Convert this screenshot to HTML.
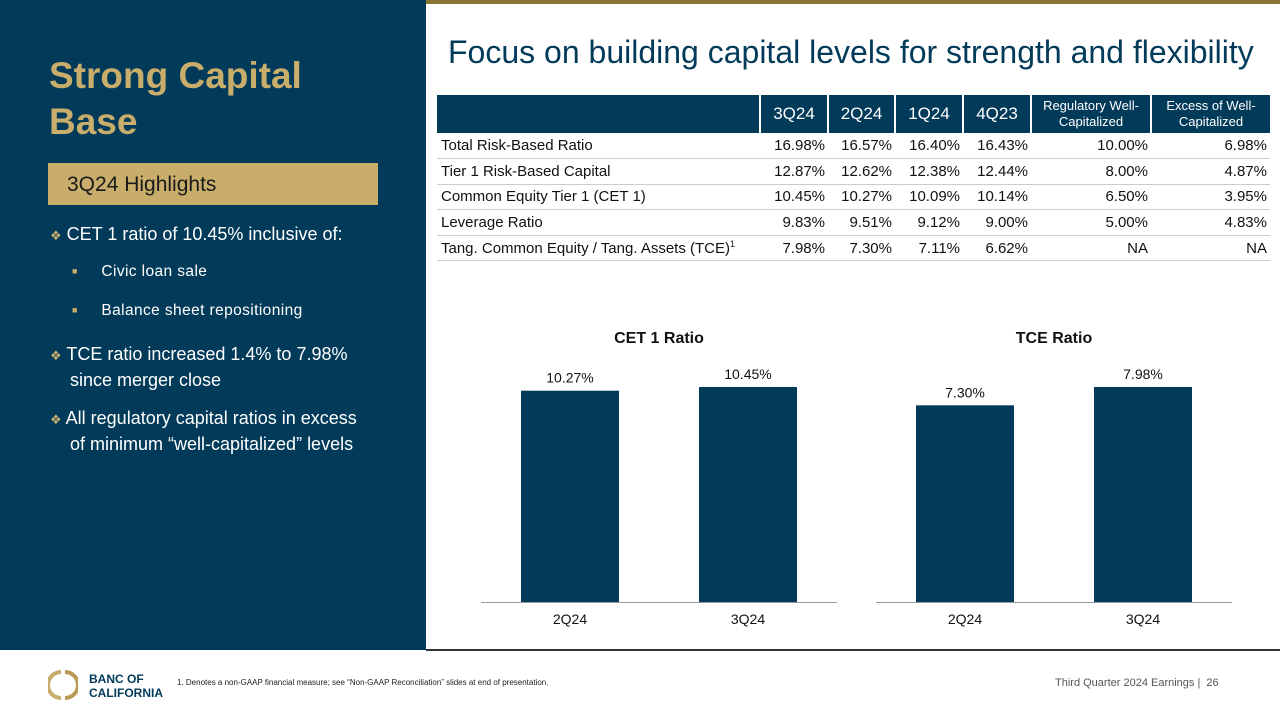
<!DOCTYPE html>
<html><head><meta charset="utf-8">
<style>
*{margin:0;padding:0;box-sizing:border-box}
body{width:1280px;height:720px;position:relative;background:#fff;font-family:"Liberation Sans",Arial,sans-serif;overflow:hidden}
.abs{position:absolute}
#left{left:0;top:0;width:426px;height:650px;background:#023a59}
#topbar{left:426px;top:0;width:854px;height:4px;background:#8a7535}
#botline{left:426px;top:649px;width:854px;height:2px;background:#333}
.title{left:49px;top:53px;color:#c8ad6b;font-weight:bold;font-size:37px;line-height:46px}
.hl{left:48px;top:163px;width:330px;height:42px;background:#c8ad6b;color:#1a1a1a;font-size:21px;line-height:44px;padding-left:19px}
.b{color:#fff;font-size:18px;line-height:24px}
.sub{color:#fff;font-size:15.5px;letter-spacing:0.4px}
.dia{color:#c8ad6b;font-size:13px}
.heading{left:448px;top:34px;color:#023a59;font-size:32px;white-space:nowrap}
table{position:absolute;left:437px;top:95px;border-collapse:collapse;font-size:15px;color:#111}
th{background:#023a59;color:#fff;font-weight:normal;height:38px;border-left:2px solid #fff;font-size:17px}
th.sm{font-size:13px;line-height:16px}
td{height:25.6px;border-bottom:1px solid #ccc;text-align:right;padding-right:3px;white-space:nowrap}
td:first-child{text-align:left;padding-left:4px}
.foot{font-size:8px;color:#222}
</style></head><body>
<div class="abs" id="left"></div>
<div class="abs" id="topbar"></div>
<div class="abs" id="botline"></div>
<div class="abs title">Strong Capital<br>Base</div>
<div class="abs hl">3Q24 Highlights</div>
<div class="abs b" style="left:50px;top:222px"><span class="dia">❖</span> CET 1 ratio of 10.45% inclusive of:</div>
<div class="abs sub" style="left:72px;top:263px"><span style="font-size:9px;color:#c8ad6b;vertical-align:2px">■</span>&nbsp;&nbsp;&nbsp;&nbsp;&nbsp;Civic loan sale</div>
<div class="abs sub" style="left:72px;top:302px"><span style="font-size:9px;color:#c8ad6b;vertical-align:2px">■</span>&nbsp;&nbsp;&nbsp;&nbsp;&nbsp;Balance sheet repositioning</div>
<div class="abs b" style="left:50px;top:342px"><span class="dia">❖</span> TCE ratio increased 1.4% to 7.98%<br>&nbsp;&nbsp;&nbsp;&nbsp;since merger close</div>
<div class="abs b" style="left:50px;top:406px"><span class="dia">❖</span> All regulatory capital ratios in excess<br>&nbsp;&nbsp;&nbsp;&nbsp;of minimum “well-capitalized” levels</div>

<div class="abs heading">Focus on building capital levels for strength and flexibility</div>

<table>
<tr><th style="width:323px;border-left:none"></th><th style="width:68px">3Q24</th><th style="width:67px">2Q24</th><th style="width:68px">1Q24</th><th style="width:68px">4Q23</th><th class="sm" style="width:120px">Regulatory Well-<br>Capitalized</th><th class="sm" style="width:119px">Excess of Well-<br>Capitalized</th></tr>
<tr><td>Total Risk-Based Ratio</td><td>16.98%</td><td>16.57%</td><td>16.40%</td><td>16.43%</td><td>10.00%</td><td>6.98%</td></tr>
<tr><td>Tier 1 Risk-Based Capital</td><td>12.87%</td><td>12.62%</td><td>12.38%</td><td>12.44%</td><td>8.00%</td><td>4.87%</td></tr>
<tr><td>Common Equity Tier 1 (CET 1)</td><td>10.45%</td><td>10.27%</td><td>10.09%</td><td>10.14%</td><td>6.50%</td><td>3.95%</td></tr>
<tr><td>Leverage Ratio</td><td>9.83%</td><td>9.51%</td><td>9.12%</td><td>9.00%</td><td>5.00%</td><td>4.83%</td></tr>
<tr><td>Tang. Common Equity / Tang. Assets (TCE)<sup style="font-size:9px">1</sup></td><td>7.98%</td><td>7.30%</td><td>7.11%</td><td>6.62%</td><td>NA</td><td>NA</td></tr>
</table>

<svg class="abs" style="left:0;top:0" width="1280" height="720" id="charts"></svg>

<div class="abs" style="left:48px;top:668px">
<svg width="30" height="34"><path d="M13 2 A15 15 0 0 0 13 32 L13 28 A11 11 0 0 1 13 6Z" fill="#c8ad6b"/><path d="M17 2 A15 15 0 0 1 17 32 L17 28 A11 11 0 0 0 17 6Z" fill="#b89a55"/></svg>
<div class="abs" style="left:41px;top:4px;color:#023a59;font-weight:bold;font-size:12px;line-height:14px;width:100px">BANC OF<br>CALIFORNIA</div></div>
<div class="abs foot" style="left:177px;top:678px">1. Denotes a non-GAAP financial measure; see “Non-GAAP Reconciliation” slides at end of presentation.</div>
<div class="abs" style="left:1055px;top:677px;font-size:11px;color:#555">Third Quarter 2024 Earnings |&nbsp; 26</div>

<script>
const categories=["2Q24","3Q24"];
const cetValues=[10.27,10.45];
const tceValues=[7.30,7.98];
const ns="http://www.w3.org/2000/svg";
const svg=document.getElementById('charts');
function mk(t,a){const e=document.createElementNS(ns,t);for(const k in a)e.setAttribute(k,a[k]);svg.appendChild(e);return e;}
function chart(title,vals,x0,x1,key){
  const base=602,maxH=215,max=Math.max(...vals);
  const y=v=>base-v/max*maxH;
  const bw=98,step=(x1-x0)/vals.length;
  const t=mk('text',{x:(x0+x1)/2,y:343,'text-anchor':'middle','font-size':16,'font-weight':'bold',fill:'#111','font-family':'Liberation Sans'});
  t.textContent=title;
  
  
  vals.forEach((v,i)=>{
    const cx=x0+step*(i+0.5);
    const r=mk('rect',{x:cx-bw/2,y:y(v),width:bw,height:base-y(v),fill:'#023a59'});
    
    
    const l=mk('text',{x:cx,y:y(v)-8,'text-anchor':'middle','font-size':14,fill:'#111','font-family':'Liberation Sans'});
    l.textContent=v.toFixed(2)+'%';
    
    
    const c=mk('text',{x:cx,y:624,'text-anchor':'middle','font-size':14,fill:'#111','font-family':'Liberation Sans'});
    c.textContent=categories[i];
    
    
  });
  const ax=mk('line',{x1:x0,x2:x1,y1:base+0.5,y2:base+0.5,stroke:'#999','stroke-width':1});
  
  
}
chart('CET 1 Ratio',cetValues,481,837,'cet1');
chart('TCE Ratio',tceValues,876,1232,'tce');
</script>
</body></html>
